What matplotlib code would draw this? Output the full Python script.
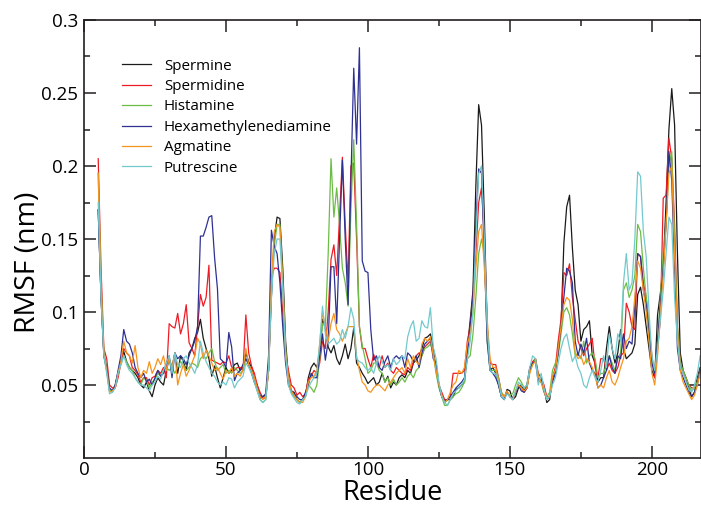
import numpy as np
import matplotlib
matplotlib.use("Agg")
import matplotlib.pyplot as plt
from matplotlib.ticker import MultipleLocator, FixedLocator

# =========================
# DATA (RMSF per residue, residues 5..217)
# =========================

residues = np.arange(5, 218)

spermine = [
    0.170, 0.110, 0.070, 0.060, 0.046, 0.046, 0.050, 0.058, 0.066, 0.073,
    0.066, 0.062, 0.060, 0.058, 0.055, 0.050, 0.048, 0.052, 0.046, 0.042,
    0.050, 0.055, 0.052, 0.050, 0.060, 0.068, 0.062, 0.072, 0.058, 0.070,
    0.066, 0.060, 0.072, 0.075, 0.082, 0.086, 0.095, 0.082, 0.075, 0.068,
    0.056, 0.063, 0.055, 0.048, 0.055, 0.062, 0.058, 0.060, 0.064, 0.065,
    0.060, 0.062, 0.072, 0.066, 0.062, 0.055, 0.050, 0.041, 0.042, 0.043,
    0.060, 0.110, 0.150, 0.165, 0.164, 0.130, 0.080, 0.055, 0.046, 0.045,
    0.040, 0.038, 0.040, 0.042, 0.055, 0.062, 0.065, 0.062, 0.072, 0.095,
    0.090, 0.076, 0.072, 0.077, 0.068, 0.064, 0.070, 0.078, 0.068, 0.075,
    0.089, 0.065, 0.062, 0.058, 0.055, 0.051, 0.053, 0.055, 0.050, 0.052,
    0.058, 0.052, 0.056, 0.048, 0.052, 0.050, 0.055, 0.057, 0.055, 0.060,
    0.058, 0.065, 0.067, 0.070, 0.075, 0.082, 0.083, 0.085, 0.075, 0.060,
    0.050, 0.042, 0.038, 0.040, 0.040, 0.042, 0.047, 0.048, 0.050, 0.052,
    0.075, 0.094, 0.115, 0.186, 0.242, 0.228, 0.165, 0.090, 0.060, 0.062,
    0.058, 0.050, 0.042, 0.040, 0.047, 0.046, 0.040, 0.042, 0.048, 0.050,
    0.046, 0.050, 0.062, 0.065, 0.068, 0.055, 0.052, 0.048, 0.038, 0.040,
    0.055, 0.060, 0.075, 0.090, 0.147, 0.172, 0.180, 0.144, 0.115, 0.105,
    0.080, 0.088, 0.090, 0.094, 0.070, 0.065, 0.052, 0.055, 0.055, 0.075,
    0.090, 0.075, 0.065, 0.072, 0.088, 0.075, 0.068, 0.070, 0.072, 0.078,
    0.112, 0.117, 0.105, 0.090, 0.075, 0.060, 0.055, 0.098, 0.113, 0.130,
    0.175, 0.225, 0.253, 0.228, 0.140, 0.072, 0.060, 0.055, 0.048, 0.042,
    0.045, 0.055, 0.062,
]

spermidine = [
    0.205, 0.130, 0.075, 0.068, 0.050, 0.048, 0.048, 0.055, 0.065, 0.075,
    0.072, 0.070, 0.062, 0.060, 0.057, 0.052, 0.055, 0.055, 0.050, 0.055,
    0.056, 0.060, 0.058, 0.062, 0.055, 0.092, 0.090, 0.089, 0.099, 0.085,
    0.092, 0.105, 0.079, 0.075, 0.070, 0.090, 0.112, 0.104, 0.110, 0.132,
    0.067, 0.066, 0.065, 0.064, 0.066, 0.065, 0.070, 0.062, 0.060, 0.062,
    0.062, 0.060, 0.098, 0.072, 0.063, 0.058, 0.050, 0.045, 0.041, 0.041,
    0.060, 0.124, 0.130, 0.130, 0.127, 0.100, 0.070, 0.060, 0.050, 0.048,
    0.043, 0.045, 0.042, 0.044, 0.054, 0.056, 0.060, 0.058, 0.065, 0.080,
    0.075, 0.100, 0.136, 0.146, 0.125, 0.165, 0.206, 0.160, 0.120, 0.200,
    0.202, 0.150, 0.090, 0.075, 0.075, 0.068, 0.062, 0.071, 0.065, 0.062,
    0.070, 0.062, 0.065, 0.060, 0.058, 0.062, 0.060, 0.058, 0.057, 0.062,
    0.060, 0.066, 0.070, 0.072, 0.070, 0.076, 0.078, 0.080, 0.072, 0.062,
    0.050, 0.045, 0.040, 0.040, 0.042, 0.058, 0.058, 0.058, 0.058, 0.060,
    0.080, 0.090, 0.110, 0.140, 0.175, 0.185, 0.150, 0.090, 0.065, 0.064,
    0.064, 0.055, 0.045, 0.042, 0.045, 0.042, 0.040, 0.045, 0.050, 0.048,
    0.045, 0.048, 0.060, 0.066, 0.068, 0.058, 0.055, 0.050, 0.042, 0.042,
    0.055, 0.062, 0.080, 0.095, 0.127, 0.125, 0.133, 0.110, 0.095, 0.080,
    0.075, 0.070, 0.075, 0.078, 0.082, 0.062, 0.055, 0.068, 0.068, 0.060,
    0.065, 0.060, 0.058, 0.062, 0.070, 0.072, 0.106, 0.100, 0.090, 0.088,
    0.140, 0.138, 0.120, 0.110, 0.090, 0.070, 0.055, 0.075, 0.095, 0.178,
    0.180, 0.219, 0.205, 0.160, 0.090, 0.065, 0.058, 0.055, 0.050, 0.048,
    0.048, 0.052, 0.060,
]

histamine = [
    0.195, 0.120, 0.072, 0.062, 0.047, 0.045, 0.050, 0.058, 0.064, 0.070,
    0.066, 0.062, 0.060, 0.055, 0.052, 0.050, 0.055, 0.053, 0.048, 0.052,
    0.054, 0.058, 0.056, 0.060, 0.062, 0.060, 0.062, 0.058, 0.062, 0.066,
    0.064, 0.060, 0.062, 0.065, 0.064, 0.062, 0.068, 0.070, 0.068, 0.072,
    0.075, 0.066, 0.060, 0.062, 0.064, 0.058, 0.060, 0.058, 0.062, 0.060,
    0.058, 0.060, 0.068, 0.064, 0.060, 0.052, 0.046, 0.040, 0.038, 0.040,
    0.060, 0.120, 0.145, 0.160, 0.160, 0.120, 0.075, 0.052, 0.045, 0.042,
    0.040, 0.038, 0.040, 0.043, 0.050, 0.048, 0.045, 0.050, 0.068, 0.092,
    0.090, 0.140, 0.205, 0.165, 0.185, 0.160, 0.130, 0.120, 0.104, 0.170,
    0.218, 0.160, 0.090, 0.077, 0.068, 0.058, 0.060, 0.065, 0.065, 0.060,
    0.058, 0.052, 0.055, 0.050, 0.054, 0.050, 0.052, 0.055, 0.052, 0.056,
    0.058, 0.055, 0.060, 0.062, 0.070, 0.075, 0.076, 0.078, 0.072, 0.058,
    0.048, 0.042, 0.036, 0.036, 0.040, 0.042, 0.044, 0.045, 0.048, 0.052,
    0.068, 0.070, 0.085, 0.110, 0.140, 0.150, 0.140, 0.080, 0.060, 0.060,
    0.060, 0.055, 0.045, 0.042, 0.045, 0.043, 0.044, 0.050, 0.055, 0.052,
    0.048, 0.050, 0.060, 0.064, 0.068, 0.056, 0.052, 0.045, 0.042, 0.045,
    0.060, 0.065, 0.070, 0.085, 0.100, 0.103, 0.098, 0.085, 0.070, 0.072,
    0.068, 0.080, 0.065, 0.070, 0.072, 0.068, 0.055, 0.058, 0.058, 0.065,
    0.070, 0.065, 0.060, 0.068, 0.072, 0.115, 0.120, 0.110, 0.115, 0.125,
    0.160, 0.155, 0.130, 0.110, 0.090, 0.068, 0.060, 0.080, 0.110, 0.140,
    0.160, 0.200, 0.210, 0.150, 0.090, 0.065, 0.060, 0.055, 0.050, 0.046,
    0.048, 0.052, 0.060,
]

hexamethylenediamine = [
    0.170, 0.110, 0.070, 0.062, 0.048, 0.046, 0.050, 0.060, 0.070, 0.088,
    0.080, 0.078, 0.072, 0.062, 0.058, 0.055, 0.058, 0.052, 0.054, 0.050,
    0.055, 0.060, 0.056, 0.058, 0.065, 0.070, 0.055, 0.072, 0.068, 0.070,
    0.068, 0.064, 0.070, 0.075, 0.080, 0.090, 0.152, 0.152, 0.158, 0.165,
    0.166, 0.137, 0.116, 0.068, 0.066, 0.062, 0.086, 0.076, 0.053, 0.058,
    0.060, 0.064, 0.068, 0.064, 0.058, 0.052, 0.048, 0.043, 0.042, 0.044,
    0.070, 0.156, 0.145, 0.140, 0.120, 0.090, 0.065, 0.050, 0.046, 0.044,
    0.042, 0.040, 0.040, 0.045, 0.050, 0.058, 0.055, 0.055, 0.070, 0.085,
    0.067, 0.080, 0.131, 0.131, 0.092, 0.150, 0.204, 0.150, 0.105, 0.190,
    0.267, 0.215, 0.281, 0.135, 0.128, 0.127, 0.088, 0.067, 0.070, 0.062,
    0.060, 0.066, 0.070, 0.062, 0.068, 0.070, 0.068, 0.070, 0.062, 0.072,
    0.070, 0.066, 0.070, 0.062, 0.072, 0.078, 0.080, 0.082, 0.068, 0.065,
    0.050, 0.042, 0.039, 0.040, 0.042, 0.045, 0.048, 0.050, 0.052, 0.055,
    0.070, 0.090, 0.110, 0.160, 0.198, 0.195, 0.140, 0.080, 0.060, 0.058,
    0.055, 0.050, 0.042, 0.040, 0.045, 0.042, 0.041, 0.045, 0.050, 0.046,
    0.045, 0.048, 0.060, 0.065, 0.066, 0.052, 0.054, 0.046, 0.040, 0.042,
    0.052, 0.058, 0.072, 0.090, 0.110, 0.130, 0.128, 0.120, 0.080, 0.070,
    0.078, 0.072, 0.082, 0.065, 0.060, 0.058, 0.048, 0.050, 0.055, 0.060,
    0.070, 0.062, 0.058, 0.070, 0.068, 0.085, 0.075, 0.080, 0.078, 0.105,
    0.140, 0.138, 0.115, 0.105, 0.085, 0.065, 0.058, 0.080, 0.105, 0.130,
    0.160, 0.210, 0.190, 0.130, 0.075, 0.060, 0.055, 0.050, 0.045, 0.042,
    0.045, 0.050, 0.060,
]

agmatine = [
    0.195, 0.115, 0.072, 0.060, 0.045, 0.046, 0.048, 0.058, 0.066, 0.080,
    0.072, 0.070, 0.065, 0.077, 0.062, 0.055, 0.060, 0.058, 0.066, 0.058,
    0.062, 0.068, 0.064, 0.070, 0.060, 0.068, 0.062, 0.072, 0.050, 0.058,
    0.064, 0.056, 0.060, 0.065, 0.070, 0.082, 0.078, 0.068, 0.074, 0.070,
    0.065, 0.060, 0.062, 0.058, 0.054, 0.060, 0.058, 0.062, 0.056, 0.058,
    0.056, 0.060, 0.075, 0.064, 0.060, 0.055, 0.048, 0.042, 0.040, 0.042,
    0.060, 0.120, 0.155, 0.160, 0.158, 0.120, 0.072, 0.055, 0.046, 0.043,
    0.040, 0.038, 0.038, 0.042, 0.052, 0.055, 0.056, 0.060, 0.078, 0.100,
    0.090, 0.080, 0.092, 0.099, 0.088, 0.085, 0.080, 0.085, 0.090, 0.090,
    0.090, 0.070, 0.060, 0.052, 0.050, 0.046, 0.045, 0.048, 0.050, 0.050,
    0.048, 0.046, 0.050, 0.052, 0.055, 0.058, 0.060, 0.062, 0.058, 0.068,
    0.062, 0.070, 0.066, 0.064, 0.078, 0.082, 0.080, 0.083, 0.070, 0.060,
    0.050, 0.043, 0.038, 0.040, 0.045, 0.050, 0.052, 0.060, 0.058, 0.062,
    0.078, 0.085, 0.100, 0.130, 0.155, 0.160, 0.130, 0.095, 0.068, 0.062,
    0.062, 0.053, 0.044, 0.042, 0.046, 0.042, 0.040, 0.046, 0.050, 0.048,
    0.046, 0.048, 0.058, 0.064, 0.066, 0.056, 0.052, 0.046, 0.040, 0.043,
    0.056, 0.060, 0.075, 0.090, 0.105, 0.110, 0.108, 0.095, 0.072, 0.068,
    0.070, 0.064, 0.068, 0.066, 0.062, 0.056, 0.048, 0.050, 0.048, 0.055,
    0.060, 0.052, 0.050, 0.055, 0.062, 0.068, 0.080, 0.082, 0.090, 0.110,
    0.135, 0.130, 0.115, 0.100, 0.080, 0.058, 0.050, 0.070, 0.100, 0.125,
    0.160, 0.195, 0.200, 0.140, 0.085, 0.060, 0.052, 0.048, 0.044, 0.040,
    0.043, 0.050, 0.058,
]

putrescine = [
    0.175, 0.110, 0.070, 0.058, 0.044, 0.045, 0.048, 0.058, 0.064, 0.070,
    0.064, 0.060, 0.058, 0.055, 0.052, 0.050, 0.050, 0.048, 0.046, 0.050,
    0.052, 0.056, 0.054, 0.060, 0.065, 0.070, 0.058, 0.072, 0.064, 0.062,
    0.068, 0.070, 0.065, 0.062, 0.058, 0.064, 0.080, 0.072, 0.066, 0.062,
    0.058, 0.056, 0.052, 0.050, 0.052, 0.050, 0.055, 0.054, 0.048, 0.052,
    0.054, 0.056, 0.065, 0.062, 0.058, 0.052, 0.046, 0.040, 0.038, 0.040,
    0.062, 0.110, 0.140, 0.150, 0.150, 0.115, 0.070, 0.050, 0.044, 0.041,
    0.038, 0.037, 0.040, 0.042, 0.048, 0.052, 0.055, 0.058, 0.078, 0.104,
    0.085, 0.078, 0.080, 0.082, 0.078, 0.080, 0.088, 0.082, 0.090, 0.103,
    0.095, 0.068, 0.066, 0.065, 0.062, 0.060, 0.062, 0.058, 0.065, 0.070,
    0.066, 0.062, 0.064, 0.060, 0.068, 0.064, 0.066, 0.070, 0.068, 0.083,
    0.090, 0.094, 0.080, 0.082, 0.094, 0.090, 0.089, 0.103, 0.076, 0.068,
    0.052, 0.042, 0.038, 0.036, 0.040, 0.044, 0.046, 0.048, 0.050, 0.054,
    0.068, 0.080, 0.100, 0.150, 0.195, 0.200, 0.150, 0.090, 0.060, 0.058,
    0.058, 0.052, 0.042, 0.040, 0.044, 0.042, 0.040, 0.046, 0.052, 0.050,
    0.048, 0.050, 0.062, 0.070, 0.068, 0.050, 0.058, 0.048, 0.040, 0.042,
    0.050, 0.055, 0.065, 0.075, 0.082, 0.085, 0.075, 0.066, 0.070, 0.062,
    0.058, 0.050, 0.048, 0.055, 0.060, 0.055, 0.052, 0.060, 0.070, 0.062,
    0.085, 0.075, 0.068, 0.085, 0.080, 0.120, 0.140, 0.115, 0.120, 0.150,
    0.196, 0.193, 0.155, 0.138, 0.100, 0.070, 0.060, 0.075, 0.095, 0.115,
    0.140, 0.165, 0.160, 0.110, 0.080, 0.062, 0.058, 0.052, 0.047, 0.045,
    0.050, 0.058, 0.070,
]

labels = ["Spermine", "Spermidine", "Histamine",
          "Hexamethylenediamine", "Agmatine", "Putrescine"]
colors = ["#1a1a1a", "#ed1c24", "#6cbd45", "#2e3192", "#f7941d", "#72c9cd"]

x_ticks = [0, 50, 100, 150, 200]
y_ticks = [0.05, 0.1, 0.15, 0.2, 0.25, 0.3]
y_tick_labels = ["0.05", "0.1", "0.15", "0.2", "0.25", "0.3"]

# =========================
# FIGURE
# =========================

plt.rcParams["font.family"] = ["Open Sans", "DejaVu Sans"]

fig = plt.figure(figsize=(7.01, 5.07), dpi=100)
ax = fig.add_axes([84 / 701, 49 / 507, 617 / 701, 438 / 507])

series = [spermine, spermidine, histamine, hexamethylenediamine, agmatine, putrescine]
for vals, lab, col in zip(series, labels, colors):
    ax.plot(residues, vals, color=col, lw=0.9, label=lab)

ax.set_xlim(0, 217.3)
ax.set_ylim(0, 0.3)
ax.set_xticks(x_ticks)
ax.set_yticks(y_ticks)
ax.set_yticklabels(y_tick_labels)
ax.xaxis.set_minor_locator(MultipleLocator(25))
ax.yaxis.set_minor_locator(FixedLocator([0.025, 0.075, 0.125, 0.175, 0.225, 0.275]))

ax.tick_params(which="both", direction="in", top=True, right=True,
               labelsize=13.5, width=1.1, color="#231f20")
ax.tick_params(which="major", length=8.5, pad=2)
ax.tick_params(which="minor", length=4.5)
ax.tick_params(axis="y", which="major", pad=4)
for sp in ax.spines.values():
    sp.set_linewidth(1.2)
    sp.set_color("#231f20")

ax.set_xlabel("Residue", fontsize=19.5, labelpad=0)
ax.set_ylabel("RMSF (nm)", fontsize=20.5)
ax.yaxis.set_label_coords(-0.068, 0.447)

ax.legend(loc="upper left", bbox_to_anchor=(0.062, 0.912), frameon=False,
          fontsize=10.9, handlelength=1.9, handletextpad=0.85,
          labelspacing=0.36, borderaxespad=0, borderpad=0)

fig.savefig("out.png", dpi=100)
